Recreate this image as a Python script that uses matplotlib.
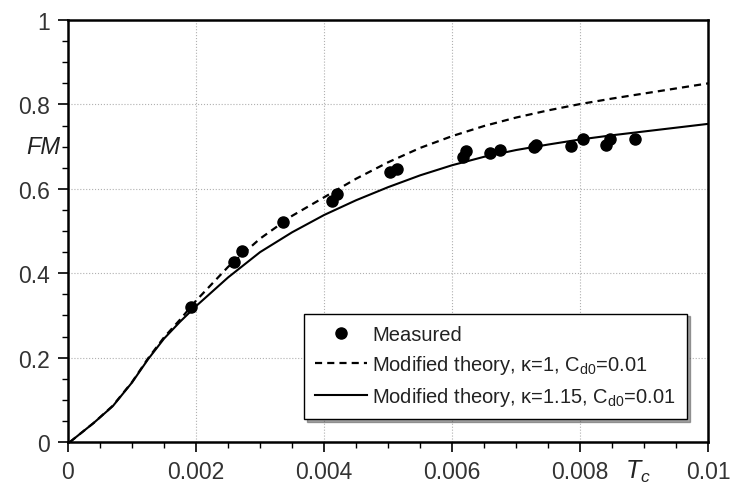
import numpy as np
import matplotlib
matplotlib.use("Agg")
import matplotlib.pyplot as plt
from matplotlib.ticker import MultipleLocator, FormatStrFormatter

# measured points (Tc, FM)
tc_meas = [0.00192, 0.00260, 0.00272, 0.00335, 0.00412, 0.00420, 0.00503, 0.00514,
           0.00617, 0.00621, 0.00659, 0.00674, 0.00727, 0.00731, 0.00785, 0.00804,
           0.00840, 0.00846, 0.00885]
fm_meas = [0.319, 0.427, 0.453, 0.522, 0.572, 0.588, 0.639, 0.647,
           0.675, 0.690, 0.685, 0.693, 0.700, 0.704, 0.702, 0.718,
           0.704, 0.718, 0.718]

# modified theory, kappa=1
tc_k1 = [0.00003, 0.0004, 0.0007, 0.0010, 0.00125, 0.0015, 0.00175, 0.0020, 0.0025,
         0.0030, 0.0035, 0.0040, 0.0045, 0.0050, 0.0055, 0.0060, 0.0065, 0.0070,
         0.0075, 0.0080, 0.0085, 0.0090, 0.0095, 0.0100]
fm_k1 = [0.0, 0.045, 0.086, 0.142, 0.198, 0.248, 0.290, 0.335, 0.415,
         0.482, 0.536, 0.580, 0.624, 0.663, 0.697, 0.725, 0.749, 0.769,
         0.786, 0.801, 0.814, 0.826, 0.838, 0.850]

# modified theory, kappa=1.15
tc_k115 = [0.00003, 0.0004, 0.0007, 0.0010, 0.00125, 0.0015, 0.00175, 0.0020, 0.0025,
           0.0030, 0.0035, 0.0040, 0.0045, 0.0050, 0.0055, 0.0060, 0.0065, 0.0070,
           0.0075, 0.0080, 0.0085, 0.0090, 0.0095, 0.0100]
fm_k115 = [0.0, 0.045, 0.085, 0.141, 0.196, 0.245, 0.285, 0.322, 0.390,
           0.450, 0.497, 0.538, 0.573, 0.604, 0.632, 0.656, 0.676, 0.692,
           0.705, 0.717, 0.727, 0.736, 0.745, 0.754]

plt.rcParams['font.family'] = ['Liberation Sans', 'DejaVu Sans']
plt.rcParams['mathtext.fontset'] = 'custom'
plt.rcParams['mathtext.it'] = 'Liberation Sans:italic'
plt.rcParams['mathtext.rm'] = 'Liberation Sans'

fig = plt.figure(figsize=(7.31, 4.85), dpi=100)
ax = fig.add_axes([0.093, 0.0866, 0.876, 0.870])

ax.plot(tc_meas, fm_meas, 'o', color='black', markersize=8, label='Measured')
ax.plot(tc_k1, fm_k1, '--', color='black', lw=1.6, dashes=(3.2, 2.3),
        label=r'Modified theory, κ=1, C$_{\rm d0}$=0.01')
ax.plot(tc_k115, fm_k115, '-', color='black', lw=1.5,
        label=r'Modified theory, κ=1.15, C$_{\rm d0}$=0.01')

ax.set_xlim(0, 0.01)
ax.set_ylim(0, 1)
ax.xaxis.set_major_locator(MultipleLocator(0.002))
ax.xaxis.set_minor_locator(MultipleLocator(0.0005))
ax.yaxis.set_major_locator(MultipleLocator(0.2))
ax.yaxis.set_minor_locator(MultipleLocator(0.05))
ax.xaxis.set_major_formatter(FormatStrFormatter('%g'))
ax.yaxis.set_major_formatter(FormatStrFormatter('%g'))
ax.tick_params(which='major', length=7, width=1.2, labelsize=16.5, labelcolor='#333333', pad=6)
ax.tick_params(which='minor', length=4, width=1)
ax.grid(True, which='major', linestyle=':', color='#b0b0b0', lw=0.8)

for s in ax.spines.values():
    s.set_linewidth(1.8)

ax.text(-0.00012, 0.70, 'FM', ha='right', va='center',
        fontsize=17, style='italic', color='#222222')
ax.text(0.0089, -0.068, r'$T_c$', ha='center', va='center', fontsize=18,
        color='#222222', clip_on=False)

leg = ax.legend(loc='lower right', bbox_to_anchor=(0.967, 0.055), borderaxespad=0,
                fontsize=14.5, frameon=True, fancybox=False, shadow=True,
                edgecolor='black', handlelength=2.6, handletextpad=0.25,
                borderpad=0.55, labelspacing=0.45)
leg.get_frame().set_linewidth(1.0)
for t in leg.get_texts():
    t.set_color('#222222')

fig.savefig('out.png', dpi=100)
